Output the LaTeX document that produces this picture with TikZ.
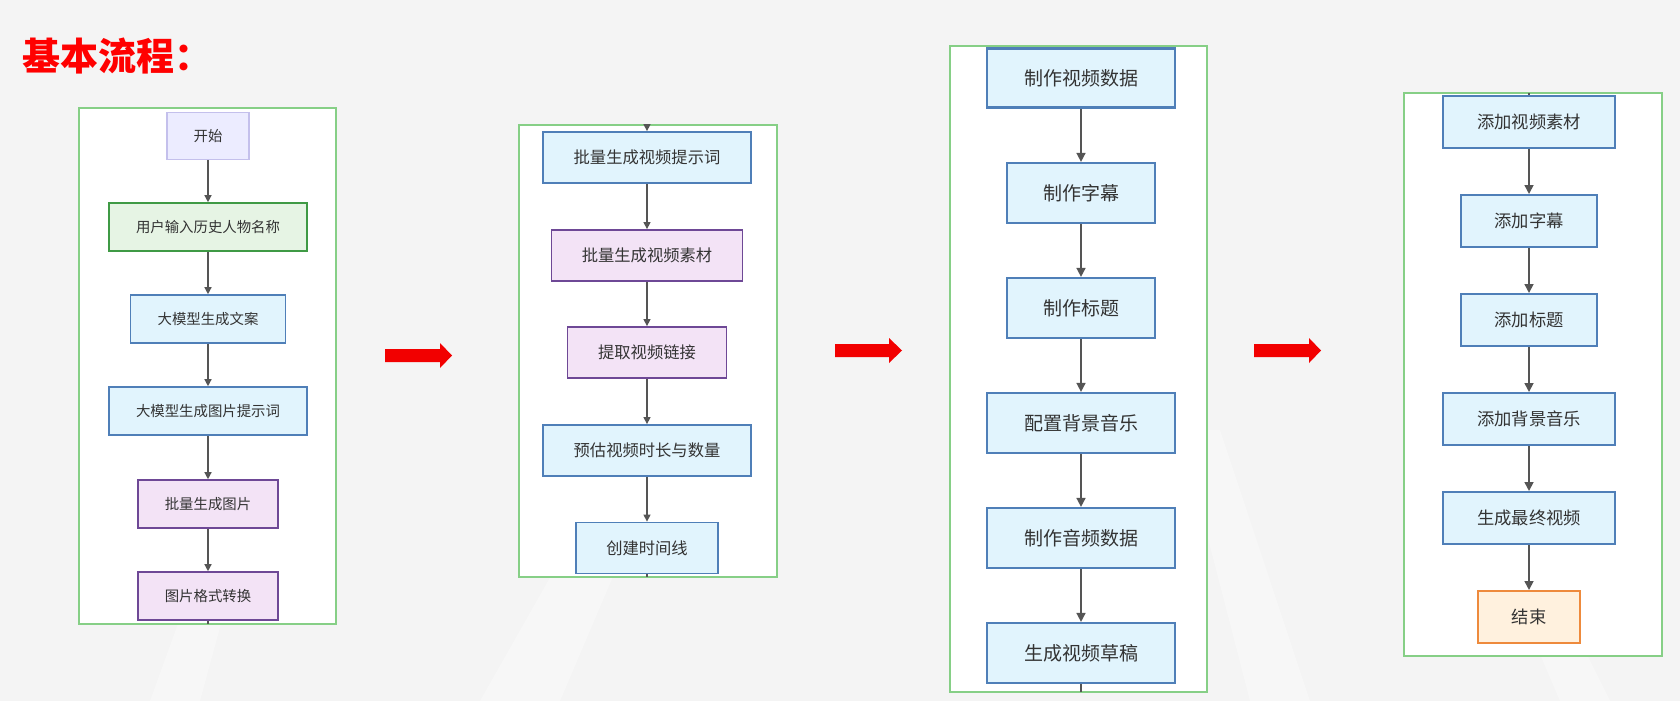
\documentclass[tikz,border=0pt]{standalone}
\usepackage{fontspec}
\setmainfont{Noto Sans CJK SC}
\newfontfamily\cjk{Noto Sans CJK SC}
\usetikzlibrary{arrows.meta}
\definecolor{bg}{HTML}{F4F4F4}
\definecolor{panelg}{HTML}{86CF86}
\definecolor{bluef}{HTML}{E1F4FD}
\definecolor{blued}{HTML}{4F7FB8}
\definecolor{purf}{HTML}{F3E3F6}
\definecolor{purd}{HTML}{6E4896}
\definecolor{greenf}{HTML}{E6F4E4}
\definecolor{greend}{HTML}{3F9A45}
\definecolor{startf}{HTML}{ECECFF}
\definecolor{startd}{HTML}{C4C0EC}
\definecolor{endf}{HTML}{FFF1DE}
\definecolor{endd}{HTML}{EE8A3C}
\definecolor{txt}{HTML}{333333}
\definecolor{conn}{HTML}{555555}
\definecolor{redar}{HTML}{F20000}
\tikzset{
  box/.style={draw, rectangle, inner sep=0pt, text=txt},
  bluebox/.style={box, fill=bluef, draw=blued},
  purbox/.style={box, fill=purf, draw=purd},
  greenbox/.style={box, fill=greenf, draw=greend},
  startbox/.style={box, fill=startf, draw=startd},
  endbox/.style={box, fill=endf, draw=endd},
  pone/.style={font=\cjk\fontsize{14.4}{16}\selectfont, line width=1.6pt},
  ptwo/.style={font=\cjk\fontsize{16.3}{18}\selectfont, line width=1.8pt},
  pthree/.style={font=\cjk\fontsize{19}{21}\selectfont, line width=2.2pt},
  pfour/.style={font=\cjk\fontsize{17.3}{19}\selectfont, line width=2pt},
  panel/.style={draw=panelg, fill=white, line width=1.4pt},
  conna/.style={draw=conn, line width=1.3pt, -{Triangle[length=7pt,width=7pt]}},
  connb/.style={draw=conn, line width=1.6pt, -{Triangle[length=9pt,width=9pt]}},
  connplain/.style={draw=conn, line width=1.3pt},
  redarrow/.style={fill=redar}
}
\begin{document}
\begin{tikzpicture}[x=1pt,y=-1pt]
\fill[bg] (0,0) rectangle (1680,701);
\useasboundingbox (0,0) rectangle (1680,701);
% faint background bands
\fill[white, opacity=0.3] (150,701) -- (230,480) -- (260,480) -- (200,701) -- cycle;
\fill[white, opacity=0.3] (480,701) -- (560,560) -- (620,560) -- (560,701) -- cycle;
\fill[white, opacity=0.3] (1250,701) -- (1180,430) -- (1220,430) -- (1310,701) -- cycle;
\fill[white, opacity=0.3] (1560,701) -- (1440,420) -- (1470,420) -- (1610,701) -- cycle;

% title
\node[anchor=west, text=red, font=\cjk\bfseries\fontsize{38}{44}\selectfont, inner sep=0pt] (title) at (22,56) {基本流程：};

% ---------- panel 1 ----------
\draw[panel] (79,108) rectangle (336,624);
\node[startbox, pone, minimum width=82pt, minimum height=47pt, line width=1.2pt] (a1) at (208,136) {开始};
\node[greenbox, pone, minimum width=198pt, minimum height=48pt] (a2) at (208,227) {用户输入历史人物名称};
\node[bluebox, pone, minimum width=155pt, minimum height=48pt] (a3) at (208,319) {大模型生成文案};
\node[bluebox, pone, minimum width=198pt, minimum height=48pt] (a4) at (208,411) {大模型生成图片提示词};
\node[purbox, pone, minimum width=140pt, minimum height=48pt] (a5) at (208,504) {批量生成图片};
\node[purbox, pone, minimum width=140pt, minimum height=48pt] (a6) at (208,596) {图片格式转换};
\coordinate (az) at (208,624);
\draw[conna] (a1) -- (a2);
\draw[conna] (a2) -- (a3);
\draw[conna] (a3) -- (a4);
\draw[conna] (a4) -- (a5);
\draw[conna] (a5) -- (a6);
\draw[connplain] (a6) -- (az);

% red arrow 1
\fill[redarrow] (385,349) -- (440,349) -- (440,343) -- (452,355.5) -- (440,368) -- (440,362) -- (385,362) -- cycle;

% ---------- panel 2 ----------
\draw[panel] (519,125) rectangle (777,577);
\node[bluebox, ptwo, minimum width=208pt, minimum height=51pt] (b1) at (647,157.5) {批量生成视频提示词};
\node[purbox, ptwo, minimum width=191pt, minimum height=51pt] (b2) at (647,255.5) {批量生成视频素材};
\node[purbox, ptwo, minimum width=159pt, minimum height=51pt] (b3) at (647,352.5) {提取视频链接};
\node[bluebox, ptwo, minimum width=208pt, minimum height=51pt] (b4) at (647,450.5) {预估视频时长与数量};
\node[bluebox, ptwo, minimum width=142pt, minimum height=51pt] (b5) at (647,548) {创建时间线};
\coordinate (b0) at (647,125);
\coordinate (bz) at (647,577);
\draw[conna] (b0) -- (b1);
\draw[conna] (b1) -- (b2);
\draw[conna] (b2) -- (b3);
\draw[conna] (b3) -- (b4);
\draw[conna] (b4) -- (b5);
\draw[connplain] (b5) -- (bz);

% red arrow 2
\fill[redarrow] (835,344) -- (889,344) -- (889,338) -- (902,350.5) -- (889,363) -- (889,357) -- (835,357) -- cycle;

% ---------- panel 3 ----------
\draw[panel] (950,46) rectangle (1207,692);
\node[bluebox, pthree, minimum width=188pt, minimum height=59pt] (c1) at (1081,78) {制作视频数据};
\node[bluebox, pthree, minimum width=148pt, minimum height=60pt] (c2) at (1081,193) {制作字幕};
\node[bluebox, pthree, minimum width=148pt, minimum height=60pt] (c3) at (1081,308) {制作标题};
\node[bluebox, pthree, minimum width=188pt, minimum height=60pt] (c4) at (1081,423) {配置背景音乐};
\node[bluebox, pthree, minimum width=188pt, minimum height=60pt] (c5) at (1081,538) {制作音频数据};
\node[bluebox, pthree, minimum width=188pt, minimum height=60pt] (c6) at (1081,653) {生成视频草稿};
\coordinate (cz) at (1081,692);
\draw[connb] (c1) -- (c2);
\draw[connb] (c2) -- (c3);
\draw[connb] (c3) -- (c4);
\draw[connb] (c4) -- (c5);
\draw[connb] (c5) -- (c6);
\draw[connplain, line width=1.6pt] (c6) -- (cz);

% red arrow 3
\fill[redarrow] (1254,344) -- (1309,344) -- (1309,338) -- (1321,350.5) -- (1309,363) -- (1309,357) -- (1254,357) -- cycle;

% ---------- panel 4 ----------
\draw[panel] (1404,93) rectangle (1662,656);
\node[bluebox, pfour, minimum width=172pt, minimum height=52pt] (d1) at (1529,122) {添加视频素材};
\node[bluebox, pfour, minimum width=136pt, minimum height=52pt] (d2) at (1529,221) {添加字幕};
\node[bluebox, pfour, minimum width=136pt, minimum height=52pt] (d3) at (1529,320) {添加标题};
\node[bluebox, pfour, minimum width=172pt, minimum height=52pt] (d4) at (1529,419) {添加背景音乐};
\node[bluebox, pfour, minimum width=172pt, minimum height=52pt] (d5) at (1529,518) {生成最终视频};
\node[endbox, pfour, minimum width=102pt, minimum height=52pt] (d6) at (1529,617) {结束};
\coordinate (d0) at (1529,93);
\draw[connplain, line width=1.6pt] (d0) -- (d1);
\draw[connb] (d1) -- (d2);
\draw[connb] (d2) -- (d3);
\draw[connb] (d3) -- (d4);
\draw[connb] (d4) -- (d5);
\draw[connb] (d5) -- (d6);
\end{tikzpicture}
\end{document}
